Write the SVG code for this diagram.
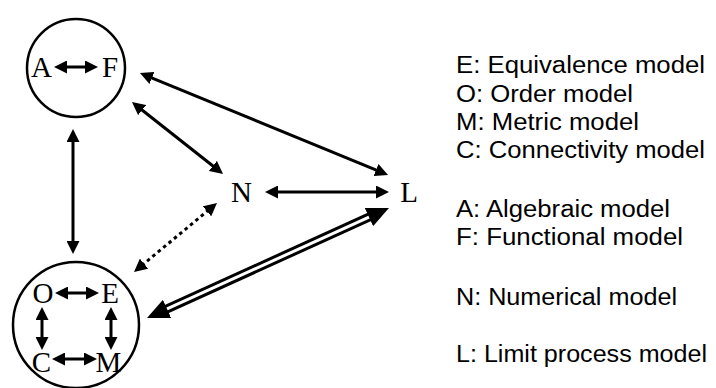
<svg xmlns="http://www.w3.org/2000/svg" width="716" height="388" viewBox="0 0 716 388">
<style>
.node{fill:none;stroke:#000;stroke-width:2.5}
.lbl{font-family:"Liberation Serif","Times New Roman",serif;font-size:29px;fill:#000;text-anchor:middle}
.leg{font-family:"Liberation Sans",Arial,sans-serif;font-size:23px;fill:#000}
.c{stroke:#000;stroke-width:3;fill:none;marker-start:url(#ah);marker-end:url(#ah)}
.dot{stroke-dasharray:3.5 3.5}
.dbl{stroke:#000;stroke-width:9;fill:none;marker-start:url(#big);marker-end:url(#big)}
.dblw{stroke:#fff;stroke-width:3;fill:none}
</style>
<defs>
<marker id="ah" viewBox="0 0 13 13" refX="3" refY="6.5" markerWidth="13" markerHeight="13" markerUnits="userSpaceOnUse" orient="auto-start-reverse"><path d="M0,0 L13,6.5 L0,13 Z" fill="#000"/></marker>
<marker id="big" viewBox="0 0 22 20" refX="6" refY="10" markerWidth="22" markerHeight="20" markerUnits="userSpaceOnUse" orient="auto-start-reverse"><path d="M0,0 L22,10 L0,20 Z" fill="#000"/></marker>
</defs>
<rect width="716" height="388" fill="#fff"/>
<g id="nodeAF">
<circle class="node" cx="76" cy="68" r="49"/>
<text class="lbl" x="41.5" y="77">A</text>
<text class="lbl" x="110" y="77">F</text>
<line class="c" x1="64" y1="67" x2="88" y2="67"/>
</g>
<g id="nodeOECM">
<circle class="node" cx="76" cy="325" r="63"/>
<text class="lbl" x="43" y="303">O</text>
<text class="lbl" x="110" y="303">E</text>
<text class="lbl" x="41.5" y="372">C</text>
<text class="lbl" x="108.5" y="372">M</text>
<line class="c" x1="65" y1="293" x2="89" y2="293"/>
<line class="c" x1="62" y1="359" x2="87" y2="359"/>
<line class="c" x1="42" y1="317" x2="42" y2="340"/>
<line class="c" x1="111" y1="317" x2="111" y2="340"/>
</g>
<g id="nodeN"><text class="lbl" x="241.5" y="202">N</text></g>
<g id="nodeL"><text class="lbl" x="409" y="202">L</text></g>
<g id="connectors">
<line class="c" x1="73" y1="139" x2="73" y2="244"/>
<line class="c" x1="149.2" y1="76.8" x2="378.8" y2="171.2"/>
<line class="c" x1="139.8" y1="108.2" x2="215.2" y2="167.8"/>
<line class="c" x1="275" y1="192" x2="379" y2="192"/>
<line class="c dot" x1="141.7" y1="265.6" x2="209.3" y2="209.4"/>
<line class="dbl" x1="161.6" y1="311.4" x2="374.4" y2="214.6"/>
<line class="dblw" x1="167" y1="308.9" x2="369" y2="217.1"/>
</g>
<g id="legend">
<text class="leg" x="456" y="73" textLength="249" lengthAdjust="spacingAndGlyphs">E: Equivalence model</text>
<text class="leg" x="456" y="102" textLength="177" lengthAdjust="spacingAndGlyphs">O: Order model</text>
<text class="leg" x="456" y="130" textLength="183" lengthAdjust="spacingAndGlyphs">M: Metric model</text>
<text class="leg" x="456" y="158" textLength="249" lengthAdjust="spacingAndGlyphs">C: Connectivity model</text>
<text class="leg" x="456" y="217" textLength="214" lengthAdjust="spacingAndGlyphs">A: Algebraic model</text>
<text class="leg" x="456" y="245" textLength="227" lengthAdjust="spacingAndGlyphs">F: Functional model</text>
<text class="leg" x="456" y="305" textLength="221" lengthAdjust="spacingAndGlyphs">N: Numerical model</text>
<text class="leg" x="456" y="362" textLength="251" lengthAdjust="spacingAndGlyphs">L: Limit process model</text>
</g>
</svg>
